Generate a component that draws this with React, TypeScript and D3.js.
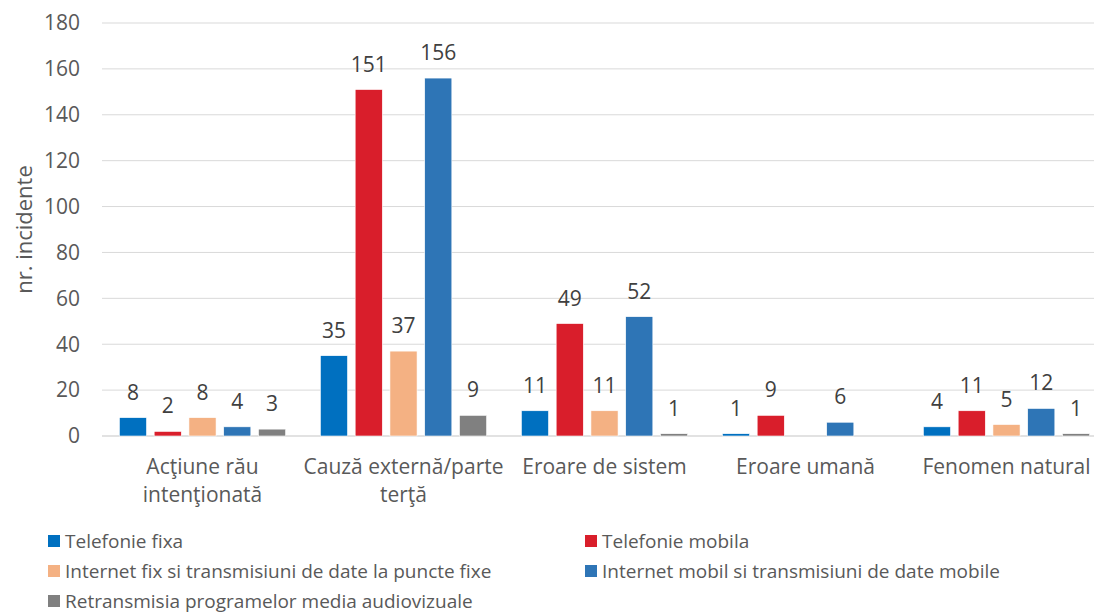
import React from "react";
import * as d3 from "d3";

const categories = [
  ["Acţiune rău", "intenţionată"],
  ["Cauză externă/parte", "terţă"],
  ["Eroare de sistem"],
  ["Eroare umană"],
  ["Fenomen natural"],
];
const seriesNames = [
  "Telefonie fixa",
  "Telefonie mobila",
  "Internet fix si transmisiuni de date la puncte fixe",
  "Internet mobil si transmisiuni de date mobile",
  "Retransmisia programelor media audiovizuale",
];
const seriesColors = ["#0070C0", "#D91E2B", "#F4B183", "#2E75B6", "#808080"];
const telefonieFixa = [8, 35, 11, 1, 4];
const telefonieMobila = [2, 151, 49, 9, 11];
const internetFix = [8, 37, 11, null, 5];
const internetMobil = [4, 156, 52, 6, 12];
const retransmisia = [3, 9, 1, null, 1];
const seriesValues = [telefonieFixa, telefonieMobila, internetFix, internetMobil, retransmisia];
const yTicks = [0, 20, 40, 60, 80, 100, 120, 140, 160, 180];

const W = 1094, H = 613;
const left = 102, right = 1107, top = 23, bottom = 436;
const FONT = "'Open Sans', 'Liberation Sans', sans-serif";

export default function App() {
  const x0 = d3.scaleBand<number>().domain(d3.range(categories.length)).range([left, right]).padding(0);
  const x1 = d3.scaleBand<number>().domain(d3.range(seriesNames.length)).range([0, x0.bandwidth()]).paddingInner(0.22).paddingOuter(0.5);
  const y = d3.scaleLinear().domain([0, 180]).range([bottom, top]);

  return (
    <svg width={W} height={H} style={{ position: "absolute", left: 0, top: 0, background: "#fff" }} fontFamily={FONT}>
      {yTicks.map((t) => (
        <g key={t}>
          <line x1={left} x2={W} y1={y(t)} y2={y(t)} stroke="#D9D9D9" strokeWidth={t === 0 ? 1.5 : 1} />
          <text x={80} y={y(t)} dy="0.35em" textAnchor="end" fontSize={21} fill="#595959">{t}</text>
        </g>
      ))}
      <text transform={`translate(24,${(top + bottom) / 2}) rotate(-90)`} textAnchor="middle" fontSize={22} fill="#595959" dy="0.35em">nr. incidente</text>
      {categories.map((cat, ci) => (
        <g key={ci}>
          {seriesValues.map((vals, si) => {
            const v = vals[ci];
            if (v == null) return null;
            const bx = (x0(ci) as number) + (x1(si) as number);
            return (
              <g key={si}>
                <rect x={bx} y={y(v)} width={x1.bandwidth()} height={bottom - y(v)} fill={seriesColors[si]} stroke="#fff" strokeWidth={0.6} />
                <text x={bx + x1.bandwidth() / 2} y={y(v) - 18} textAnchor="middle" fontSize={21} fill="#404040">{v}</text>
              </g>
            );
          })}
          {cat.map((line, li) => (
            <text key={li} x={(x0(ci) as number) + x0.bandwidth() / 2} y={467 + li * 28} dy="0.35em" textAnchor="middle" fontSize={21} fill="#595959">{line}</text>
          ))}
        </g>
      ))}
      {seriesNames.map((name, i) => {
        const col = i % 2;
        const row = Math.floor(i / 2);
        const lx = col === 0 ? 48 : 585;
        const ly = 541 + row * 30;
        return (
          <g key={name}>
            <rect x={lx} y={ly - 6} width={12} height={12} fill={seriesColors[i]} />
            <text x={lx + 17} y={ly} dy="0.35em" fontSize={19} fill="#595959">{name}</text>
          </g>
        );
      })}
    </svg>
  );
}
